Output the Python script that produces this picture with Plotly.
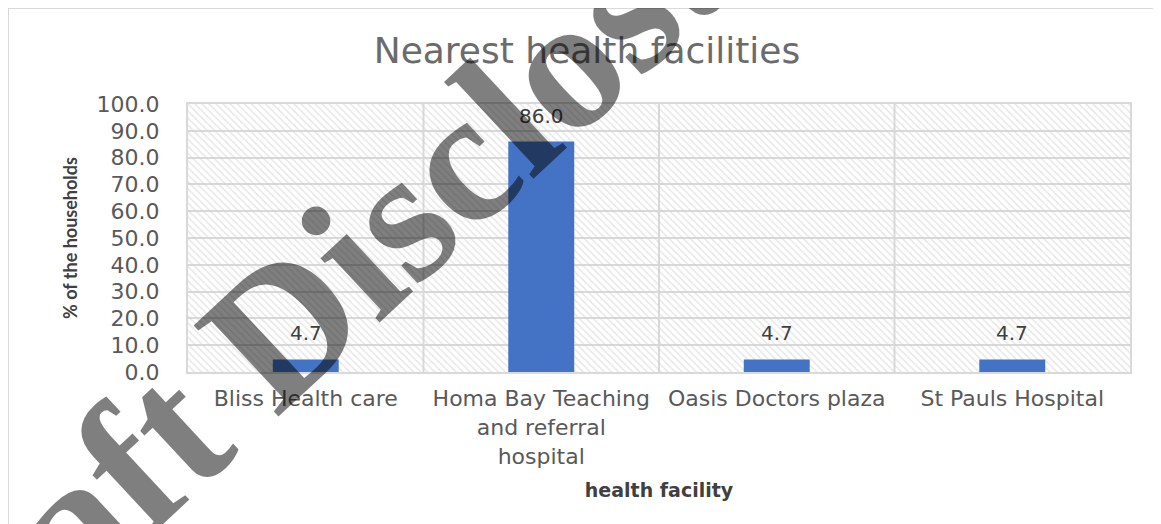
import plotly.graph_objects as go

# data
facilities = ["Bliss Health care", "Homa Bay Teaching<br>and referral<br>hospital",
              "Oasis Doctors plaza", "St Pauls Hospital"]
pct_households = [4.7, 86.0, 4.7, 4.7]
y_ticks = [0, 10, 20, 30, 40, 50, 60, 70, 80, 90, 100]

grey = "#595959"
fnt = "DejaVu Sans"
W, H = 1161, 524
# page body has an 8px margin, so work in figure pixels
L, R, T, B = 180, 1122, 96, 364
pw, ph = R - L, B - T

fig = go.Figure()

# hatched plot-area background (one full-height band per category)
fig.add_trace(go.Bar(
    x=facilities, y=[max(y_ticks)] * len(facilities), width=1,
    marker=dict(color="rgba(0,0,0,0)", line=dict(width=0),
                pattern=dict(shape="\\", fgcolor="#d0d0d0", bgcolor="rgba(0,0,0,0)",
                             size=5, solidity=0.3)),
    hoverinfo="skip", showlegend=False,
))

fig.add_trace(go.Bar(
    x=facilities, y=pct_households, width=0.28,
    marker=dict(color="#4472C4", line=dict(width=0)),
    showlegend=False,
))

# value labels
for f, v in zip(facilities, pct_households):
    fig.add_annotation(x=f, y=v, text=f"{v:.1f}", showarrow=False,
                       yanchor="bottom", yshift=12,
                       font=dict(family=fnt, size=20, color="#404040"))

fig.update_layout(
    width=W, height=H,
    barmode="overlay",
    plot_bgcolor="white", paper_bgcolor="white",
    margin=dict(l=L, r=W - R, t=T, b=H - B),
    title=dict(text="Nearest health facilities", x=(587 - 8) / W, xanchor="center",
               y=1 - (50 - 8) / H, yanchor="middle",
               font=dict(family=fnt, size=36, color="#6b6b6b")),
    font=dict(family=fnt, color=grey),
)

fig.update_xaxes(
    showgrid=False, tickfont=dict(family=fnt, size=22, color=grey),
    ticklabelstandoff=6,
    title=dict(text="<b>health facility</b>", font=dict(family=fnt, size=19, color="#404040"),
               standoff=16),
    showline=True, linecolor="#d9d9d9", linewidth=2, mirror=True, ticks="",
)
fig.update_yaxes(
    range=[0, 100], tickvals=y_ticks, tickformat=".1f",
    tickfont=dict(family=fnt, size=22, color=grey),
    ticklabelstandoff=22,
    showgrid=True, gridcolor="#d9d9d9", gridwidth=2, zeroline=False,
    showline=True, linecolor="#d9d9d9", linewidth=2, mirror=True, ticks="",
    title=dict(text="<b>% of the households</b>",
               font=dict(family="Lato", size=18, color="#404040"),
               standoff=14),
)

# vertical separators between categories
for i in range(len(facilities) - 1):
    fig.add_shape(type="line", xref="x", yref="paper", x0=i + 0.5, x1=i + 0.5,
                  y0=0, y1=1, line=dict(color="#d9d9d9", width=2), layer="below")

# chart border
fig.add_shape(type="rect", xref="paper", yref="paper",
              x0=(0 - L) / pw, x1=(W - L) / pw,
              y0=(B - H - 20) / ph, y1=(B - 0) / ph,
              line=dict(color="#d9d9d9", width=2))

# watermark
fig.add_annotation(text="<b>Draft Disclosure</b>", xref="paper", yref="paper",
                   x=(352 - L) / pw, y=(B - 245) / ph,
                   xanchor="center", yanchor="middle", showarrow=False,
                   textangle=-43,
                   font=dict(family="Liberation Serif", size=190, color="rgba(0,0,0,0.5)"))

fig.write_html("out.html")
